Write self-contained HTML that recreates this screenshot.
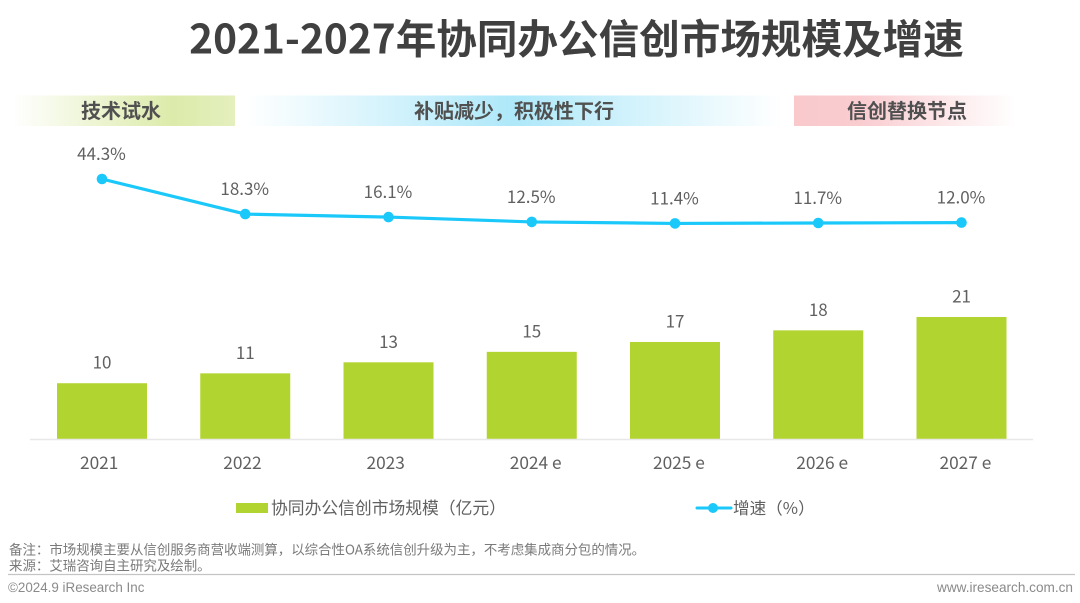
<!DOCTYPE html>
<html lang="zh-CN">
<head>
<meta charset="utf-8">
<title>2021-2027年协同办公信创市场规模及增速</title>
<style>
html,body{margin:0;padding:0;background:#fff;}
#page{width:1080px;height:603px;overflow:hidden;position:relative;}
svg{display:block;filter:blur(0.35px);}
text{font-family:"Noto Sans CJK SC","Liberation Sans",sans-serif;fill:#606060;}
.latin{font-family:"Liberation Sans","Noto Sans CJK SC",sans-serif;}
</style>
</head>
<body>
<div id="page">
<svg id="chart" width="1080" height="603" viewBox="0 0 1080 603" xmlns="http://www.w3.org/2000/svg">
  <defs>
    <linearGradient id="gGreen" x1="0" x2="1" y1="0" y2="0">
      <stop offset="0" stop-color="#dcebaa" stop-opacity="0"/>
      <stop offset="0.72" stop-color="#dcebaa"/>
      <stop offset="1" stop-color="#e4efbe"/>
    </linearGradient>
    <linearGradient id="gBlue" x1="0" x2="1" y1="0" y2="0">
      <stop offset="0" stop-color="#aee8f9" stop-opacity="0"/>
      <stop offset="0.5" stop-color="#aee8f9"/>
      <stop offset="1" stop-color="#aee8f9" stop-opacity="0"/>
    </linearGradient>
    <linearGradient id="gRed" x1="0" x2="1" y1="0" y2="0">
      <stop offset="0" stop-color="#f9c9cc"/>
      <stop offset="0.3" stop-color="#f9ccd0"/>
      <stop offset="1" stop-color="#f9ccd0" stop-opacity="0"/>
    </linearGradient>
  </defs>

  <text x="576.5" y="53.5" text-anchor="middle" font-size="40.6" font-weight="700" style="fill:#404040">2021-2027年协同办公信创市场规模及增速</text>

  <rect x="12" y="95.5" width="223" height="30.5" fill="url(#gGreen)"/>
  <text x="121" y="118" text-anchor="middle" font-size="20" font-weight="700" style="fill:#505050">技术试水</text>
  <rect x="245" y="95.5" width="537" height="30.5" fill="url(#gBlue)"/>
  <text x="514" y="118" text-anchor="middle" font-size="20" font-weight="700" style="fill:#505050">补贴减少，积极性下行</text>
  <rect x="794" y="95.5" width="222" height="30.5" fill="url(#gRed)"/>
  <text x="907" y="118" text-anchor="middle" font-size="20" font-weight="700" style="fill:#505050">信创替换节点</text>

  <g id="bars"></g>
  <line x1="30" x2="1033" y1="439.5" y2="439.5" stroke="#e8e8e8" stroke-width="1.5"/>
  <g id="xlabels"></g>
  <g id="growth"></g>

  <g>
    <rect x="236" y="503" width="32" height="10" fill="#b2d430"/>
    <text x="271" y="514" font-size="16.8">协同办公信创市场规模（亿元）</text>
    <line x1="697" x2="731" y1="508" y2="508" stroke="#1bc8fa" stroke-width="3" stroke-linecap="round"/>
    <circle cx="713" cy="508" r="5" fill="#1bc8fa"/>
    <text x="733" y="514" font-size="16.6">增速（%）</text>
  </g>

  <text x="9" y="554.5" font-size="13.45" style="fill:#7a7a7a">备注：市场规模主要从信创服务商营收端测算，以综合性OA系统信创升级为主，不考虑集成商分包的情况。</text>
  <text x="9" y="570.5" font-size="13.45" style="fill:#7a7a7a">来源：艾瑞咨询自主研究及绘制。</text>
  <line x1="8" x2="1075" y1="574.5" y2="574.5" stroke="#c4c4c4" stroke-width="1.2"/>
  <text class="latin" x="8" y="592" font-size="13.4" style="fill:#8a8a8a">©2024.9 iResearch Inc</text>
  <text class="latin" x="1073" y="592" text-anchor="end" font-size="13.6" style="fill:#8a8a8a">www.iresearch.com.cn</text>
</svg>
</div>
<script>
const categories = ['2021', '2022', '2023', '2024 e', '2025 e', '2026 e', '2027 e'];
const marketSize = [9.6, 11.3, 13.2, 15.0, 16.7, 18.7, 21.0];
const marketSizeLabels = ['10', '11', '13', '15', '17', '18', '21'];
const growthRate = [44.3, 18.3, 16.1, 12.5, 11.4, 11.7, 12.0];
const growthLabels = ['44.3%', '18.3%', '16.1%', '12.5%', '11.4%', '11.7%', '12.0%'];

const NS = 'http://www.w3.org/2000/svg';
const barsGroup = document.getElementById('bars');
const labelsGroup = document.getElementById('xlabels');
const growthGroup = document.getElementById('growth');

function xScale(i) { return 102 + i * 143.25; }
function barHeight(v) { return v * 5.81; }
function growthY(v) { return 179 + (44.3 - v) * 1.35; }
const baseline = 439;
const barWidth = 90;

function make(tag, attrs, text) {
  const el = document.createElementNS(NS, tag);
  for (const k in attrs) el.setAttribute(k, attrs[k]);
  if (text !== undefined) el.textContent = text;
  return el;
}

marketSize.forEach(function (v, i) {
  const h = barHeight(v);
  const bar = make('rect', { x: xScale(i) - barWidth / 2, y: baseline - h, width: barWidth, height: h, fill: '#b2d430' });
  
  
  barsGroup.appendChild(bar);

  const val = make('text', { x: xScale(i), y: baseline - h - 14.5, 'text-anchor': 'middle', 'font-size': 17 }, marketSizeLabels[i]);
  
  
  barsGroup.appendChild(val);

  const cat = make('text', { x: xScale(i) - 22, y: 469, 'text-anchor': 'start', 'font-size': 17.3 }, categories[i]);
  
  
  labelsGroup.appendChild(cat);
});

const linePoints = growthRate.map(function (v, i) { return xScale(i) + ',' + growthY(v); }).join(' ');
const line = make('polyline', { points: linePoints, fill: 'none', stroke: '#1bc8fa', 'stroke-width': 3.2, 'stroke-linejoin': 'round' });


growthGroup.appendChild(line);

growthRate.forEach(function (v, i) {
  const dot = make('circle', { cx: xScale(i), cy: growthY(v), r: 5.3, fill: '#1bc8fa' });
  
  
  growthGroup.appendChild(dot);

  const lab = make('text', { x: xScale(i) - 0.5, y: growthY(v) - 19, 'text-anchor': 'middle', 'font-size': 17 }, growthLabels[i]);
  
  
  growthGroup.appendChild(lab);
});
</script>
</body>
</html>
